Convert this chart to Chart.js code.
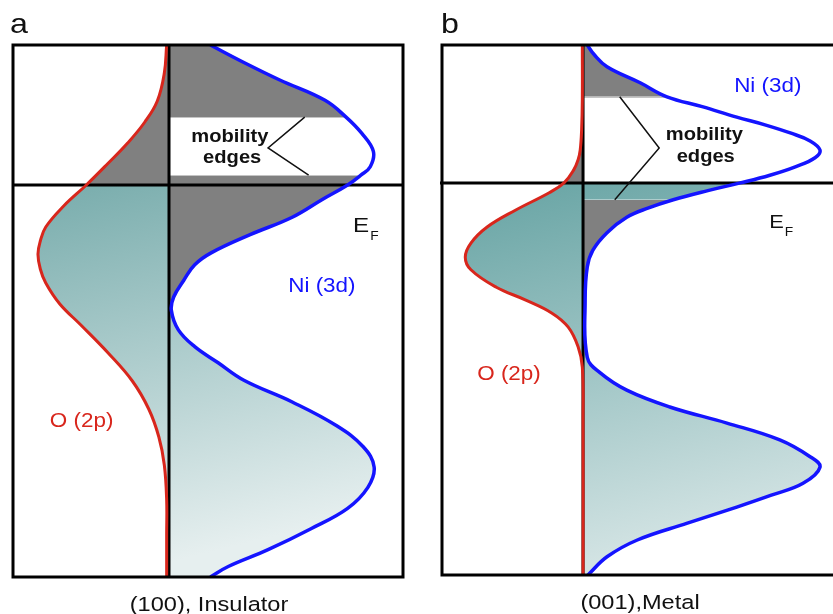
<!DOCTYPE html>
<html>
<head>
<meta charset="utf-8">
<title>NiO density of states: (100) insulator and (001) metal</title>
<script src="https://cdn.jsdelivr.net/npm/chart.js@4.4.1/dist/chart.umd.min.js"></script>
<style>
  html, body { margin: 0; padding: 0; background: #fff; overflow: hidden; }
  #wrap { position: relative; width: 833px; height: 614px; overflow: hidden; background: #fff; }
  #wrap canvas { position: absolute; top: 0; }
</style>
</head>
<body>
<div id="wrap">
  <canvas id="panelA" width="420" height="614" style="left:0px"></canvas>
  <canvas id="panelB" width="440" height="614" style="left:420px"></canvas>
</div>
<script>
// Energies in eV relative to E_F (E_F = 0); DOS in arbitrary units.
// O (2p) is plotted to the left (negative), Ni (3d) to the right.

// ---- (100) surface, insulating ----
const energyA_O = [2.0, 1.6, 1.2, 0.9, 0.6, 0.3, 0, -0.3, -0.6, -0.8, -0.99, -1.2, -1.4, -1.7, -2.0, -2.4, -2.8, -3.2, -3.6, -4.0, -4.5, -5.0, -5.6];
const dosA_O    = [-0.03, -0.06, -0.15, -0.31, -0.53, -0.79, -1.06, -1.35, -1.58, -1.65, -1.68, -1.65, -1.58, -1.40, -1.13, -0.78, -0.47, -0.26, -0.13, -0.06, -0.03, -0.03, -0.03];
const energyA_Ni = [2.0, 1.75, 1.5, 1.21, 0.97, 0.74, 0.48, 0.26, 0.14, 0, -0.21, -0.46, -0.71, -0.97, -1.14, -1.36, -1.6, -1.79, -2.07, -2.31, -2.54, -2.79, -3.1, -3.44, -3.74, -4.03, -4.32, -4.62, -4.91, -5.21, -5.45, -5.6];
const dosA_Ni    = [0.53, 0.96, 1.42, 2.00, 2.27, 2.47, 2.62, 2.58, 2.46, 2.29, 1.96, 1.58, 1.04, 0.54, 0.33, 0.19, 0.06, 0.03, 0.12, 0.33, 0.63, 0.96, 1.58, 2.15, 2.49, 2.63, 2.55, 2.29, 1.82, 1.27, 0.76, 0.53];
const mobilityEdgesA = [0.14, 0.97];   // lower, upper
const niBandGapA = -1.79;              // Ni (3d) minimum between the two bands

// ---- (001) surface, metallic ----
const energyB_O = [1.97, 1.19, 0.76, 0.47, 0.33, 0.19, 0, -0.14, -0.39, -0.63, -0.86, -1.06, -1.24, -1.49, -1.67, -1.86, -2.06, -2.34, -2.63, -3.39, -5.6];
const dosB_O    = [-0.01, -0.01, -0.02, -0.04, -0.07, -0.13, -0.27, -0.48, -0.96, -1.36, -1.59, -1.67, -1.59, -1.23, -0.82, -0.44, -0.21, -0.07, -0.01, 0, 0];
const energyB_Ni = [1.97, 1.83, 1.66, 1.43, 1.23, 1.09, 0.94, 0.83, 0.71, 0.6, 0.47, 0.36, 0.23, 0.11, 0, -0.11, -0.24, -0.36, -0.49, -0.71, -0.96, -1.2, -1.67, -2.49, -2.71, -2.96, -3.2, -3.43, -3.67, -3.91, -4.06, -4.29, -4.46, -4.63, -4.86, -5.1, -5.34, -5.6];
const dosB_Ni    = [0.06, 0.16, 0.34, 0.81, 1.19, 1.69, 2.18, 2.58, 2.95, 3.22, 3.36, 3.29, 3.01, 2.65, 2.23, 1.77, 1.28, 0.92, 0.62, 0.34, 0.14, 0.06, 0.03, 0.06, 0.24, 0.62, 1.23, 2.04, 2.79, 3.22, 3.36, 3.12, 2.67, 2.18, 1.48, 0.77, 0.34, 0.07];
const mobilityEdgesB = [-0.24, 1.23];  // lower, upper
const niBandGapB = -1.67;

const panelTitles   = ['a', 'b'];
const panelCaptions = ['(100), Insulator', '(001),Metal'];
const orbitalLabels = ['O (2p)', 'Ni (3d)'];
const fermiLabel    = ['E', 'F'];
const edgeLabel     = ['mobility', 'edges'];

// ---- styling ----
const RED = '#d8261c';
const BLUE = '#1414ff';
const GRAY = '#808080';
const INK = '#111111';
const FONT = '"Liberation Sans", Arial, Helvetica, sans-serif';
const TEXT_STRETCH = 1.15;

function toPoints(E, D) {
  return E.map((e, i) => ({ x: D[i], y: e }));
}
function slice(E, D, lo, hi) {
  return toPoints(E, D).filter(p => p.y >= lo && p.y <= hi);
}

function tealFill(c0, c1) {
  return (context) => {
    const chart = context.chart;
    const area = chart.chartArea;
    if (!area || !chart.scales.y) return c0;
    const y0 = chart.scales.y.getPixelForValue(0);
    const g = chart.ctx.createLinearGradient(area.left, y0, area.left + area.width * 0.25, area.bottom);
    g.addColorStop(0, c0);
    g.addColorStop(1, c1);
    return g;
  };
}

function stretchedText(ctx, text, x, y, align) {
  ctx.save();
  ctx.translate(x, y);
  ctx.scale(TEXT_STRETCH, 1);
  ctx.textAlign = align || 'left';
  ctx.textBaseline = 'alphabetic';
  ctx.fillText(text, 0, 0);
  ctx.restore();
}

// Box, zero-DOS axis and Fermi level
const framePlugin = {
  id: 'frame',
  beforeDatasetsDraw(chart, args, opts) {
    const { ctx, chartArea: a, scales: { x, y } } = chart;
    const cx = x.getPixelForValue(0);
    const ef = y.getPixelForValue(0);
    ctx.save();
    // faint rule along each mobility edge, across the unfilled band
    ctx.strokeStyle = '#c4c4c4';
    ctx.lineWidth = 1;
    ctx.beginPath();
    (opts.edges || []).forEach(e => {
      const yy = Math.round(y.getPixelForValue(e)) + 0.5;
      ctx.moveTo(cx, yy);
      ctx.lineTo(x.getPixelForValue(opts.edgeReach(e)), yy);
    });
    ctx.stroke();

    ctx.strokeStyle = '#000';
    ctx.lineWidth = 3;
    ctx.beginPath();
    ctx.moveTo(cx, a.top);
    ctx.lineTo(cx, a.bottom);
    ctx.moveTo(a.left - (opts.fermiLead || 0), ef);
    ctx.lineTo(a.right, ef);
    ctx.stroke();
    ctx.restore();
  },
  afterDatasetsDraw(chart) {
    const { ctx, chartArea: a } = chart;
    ctx.save();
    ctx.strokeStyle = '#000';
    ctx.lineWidth = 3;
    ctx.strokeRect(a.left, a.top, a.width, a.height);
    ctx.restore();
  }
};

// Panel letter, caption, orbital names, E_F and the mobility-edge pointer
const labelPlugin = {
  id: 'labels',
  afterDraw(chart, args, o) {
    const { ctx, chartArea: a, scales: { x, y } } = chart;
    const px = v => x.getPixelForValue(v);
    const py = v => y.getPixelForValue(v);
    ctx.save();

    ctx.fillStyle = INK;
    ctx.font = '28px ' + FONT;
    stretchedText(ctx, o.title, a.left + o.titleDx, a.top - 12, 'left');

    ctx.font = '20.5px ' + FONT;
    stretchedText(ctx, o.caption, a.left + o.captionDx, a.bottom + 34, 'center');

    ctx.fillStyle = RED;
    ctx.font = o.orbitalSize + 'px ' + FONT;
    stretchedText(ctx, orbitalLabels[0], px(o.oAt[0]), py(o.oAt[1]), 'center');
    ctx.fillStyle = BLUE;
    stretchedText(ctx, orbitalLabels[1], px(o.niAt[0]), py(o.niAt[1]), 'center');

    ctx.fillStyle = INK;
    ctx.font = o.fermiSize + 'px ' + FONT;
    const ex = px(o.fermiAt[0]), ey = py(o.fermiAt[1]);
    stretchedText(ctx, fermiLabel[0], ex, ey, 'left');
    const ew = ctx.measureText(fermiLabel[0]).width * TEXT_STRETCH;
    ctx.font = '12px ' + FONT;
    stretchedText(ctx, fermiLabel[1], ex + ew + 1, ey + 8, 'left');

    ctx.font = 'bold 17.5px ' + FONT;
    stretchedText(ctx, edgeLabel[0], px(o.edgeText[0]), py(o.edgeText[1]), 'center');
    stretchedText(ctx, edgeLabel[1], px(o.edgeText[2]), py(o.edgeText[3]), 'center');

    // pointer lines from the label to both mobility edges
    ctx.strokeStyle = INK;
    ctx.lineWidth = 1.5;
    ctx.beginPath();
    ctx.moveTo(px(o.pointer.tip[0]), py(o.pointer.tip[1]));
    ctx.lineTo(px(o.pointer.vertex[0]), py(o.pointer.vertex[1]));
    ctx.lineTo(px(o.pointer.tail[0]), py(o.pointer.tail[1]));
    ctx.stroke();

    ctx.restore();
  }
};

function buildPanel(canvasId, p) {
  const teal = tealFill(p.tealTop, p.tealBottom);
  const datasets = [
    { data: toPoints(p.E_O, p.D_O), borderColor: RED, borderWidth: 3, fill: false },
    { data: toPoints(p.E_Ni, p.D_Ni), borderColor: BLUE, borderWidth: 3.5, fill: false }
  ];
  p.regions.forEach(r => {
    const E = r.orbital === 'O' ? p.E_O : p.E_Ni;
    const D = r.orbital === 'O' ? p.D_O : p.D_Ni;
    datasets.push({
      data: slice(E, D, r.lo, r.hi),
      borderWidth: 0,
      borderColor: 'rgba(0,0,0,0)',
      backgroundColor: r.paint === 'gray' ? GRAY : teal,
      fill: 'origin'
    });
  });
  // DOS of the Ni band at a sampled energy (used to end the edge rules at the curve)
  const niAt = e => p.D_Ni[p.E_Ni.indexOf(e)];

  return new Chart(document.getElementById(canvasId), {
    type: 'line',
    data: { datasets },
    options: {
      indexAxis: 'y',
      responsive: false,
      animation: false,
      devicePixelRatio: 1,
      events: [],
      layout: { padding: p.padding },
      elements: {
        point: { radius: 0, hoverRadius: 0 },
        line: { tension: 0.4, capBezierPoints: true }
      },
      scales: {
        x: { type: 'linear', min: p.dosRange[0], max: p.dosRange[1], display: false },
        y: { type: 'linear', min: p.energyRange[0], max: p.energyRange[1], display: false }
      },
      plugins: {
        legend: { display: false },
        tooltip: { enabled: false },
        filler: { drawTime: 'beforeDatasetsDraw', propagate: false },
        frame: { fermiLead: p.fermiLead, edges: p.edgeRules, edgeReach: niAt },
        labels: p.labels
      }
    },
    plugins: [framePlugin, labelPlugin]
  });
}

buildPanel('panelA', {
  E_O: energyA_O, D_O: dosA_O, E_Ni: energyA_Ni, D_Ni: dosA_Ni,
  dosRange: [-2, 3], energyRange: [-5.6, 2.0],
  padding: { left: 13, right: 17, top: 45, bottom: 37 },
  fermiLead: 0,
  edgeRules: mobilityEdgesA,
  tealTop: '#76abab', tealBottom: '#e6efef',
  regions: [
    { orbital: 'O',  lo: 0,           hi: 2.0,               paint: 'gray' },
    { orbital: 'O',  lo: -5.6,        hi: 0,                 paint: 'teal' },
    { orbital: 'Ni', lo: mobilityEdgesA[1], hi: 2.0,         paint: 'gray' },
    { orbital: 'Ni', lo: niBandGapA,  hi: mobilityEdgesA[0], paint: 'gray' },
    { orbital: 'Ni', lo: -5.6,        hi: niBandGapA,        paint: 'teal' }
  ],
  labels: {
    title: panelTitles[0], titleDx: -3,
    caption: panelCaptions[0], captionDx: 196,
    orbitalSize: 19.5,
    oAt: [-1.12, -3.45], niAt: [1.96, -1.53],
    fermiSize: 21, fermiAt: [2.36, -0.67],
    edgeText: [0.78, 0.62, 0.81, 0.31],
    pointer: { tip: [1.74, mobilityEdgesA[1]], vertex: [1.27, 0.53], tail: [1.79, mobilityEdgesA[0]] }
  }
});

buildPanel('panelB', {
  E_O: energyB_O, D_O: dosB_O, E_Ni: energyB_Ni, D_Ni: dosB_Ni,
  dosRange: [-2, 3.8], energyRange: [-5.6, 1.97],
  padding: { left: 22, right: 9, top: 45, bottom: 39 },
  fermiLead: 2,
  edgeRules: [mobilityEdgesB[1]],
  tealTop: '#64a2a2', tealBottom: '#d2e3e3',
  regions: [
    { orbital: 'O',  lo: 0,                 hi: 1.97,              paint: 'gray' },
    { orbital: 'O',  lo: -5.6,              hi: 0,                 paint: 'teal' },
    { orbital: 'Ni', lo: mobilityEdgesB[1], hi: 1.97,              paint: 'gray' },
    { orbital: 'Ni', lo: mobilityEdgesB[0], hi: 0,                 paint: 'teal' },
    { orbital: 'Ni', lo: niBandGapB,        hi: mobilityEdgesB[0], paint: 'gray' },
    { orbital: 'Ni', lo: -5.6,              hi: niBandGapB,        paint: 'teal' }
  ],
  labels: {
    title: panelTitles[1], titleDx: -1,
    caption: panelCaptions[1], captionDx: 198,
    orbitalSize: 19.5,
    oAt: [-1.05, -2.81], niAt: [2.62, 1.3],
    fermiSize: 19, fermiAt: [2.64, -0.65],
    edgeText: [1.72, 0.61, 1.74, 0.30],
    pointer: { tip: [0.52, mobilityEdgesB[1]], vertex: [1.08, 0.50], tail: [0.45, mobilityEdgesB[0]] }
  }
});
</script>
</body>
</html>
